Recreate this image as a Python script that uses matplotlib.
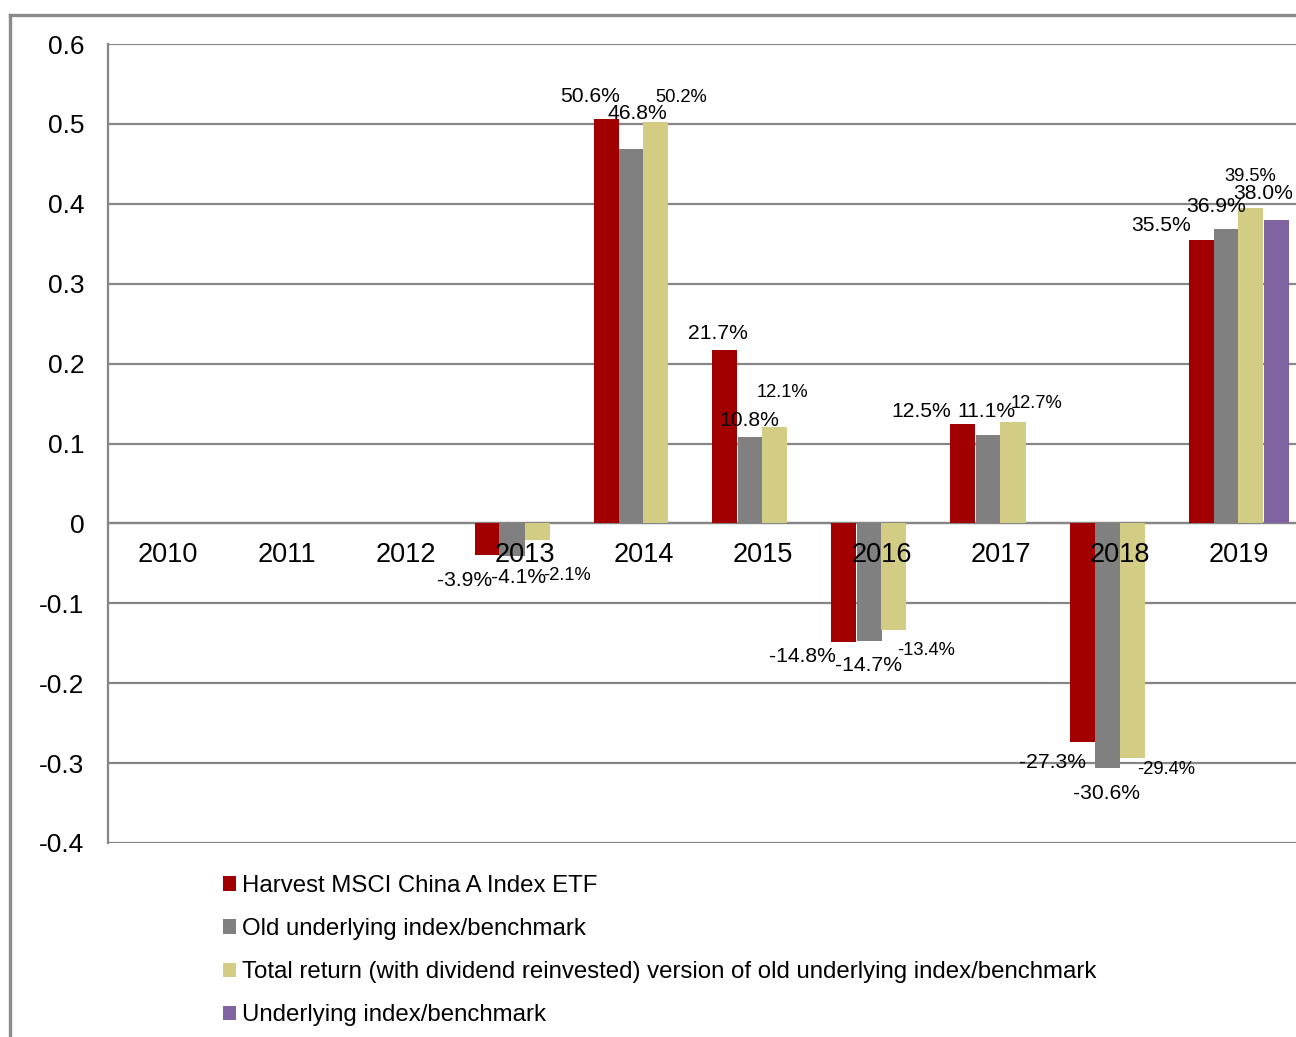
import matplotlib
matplotlib.use("Agg")
import matplotlib.pyplot as plt
from matplotlib.patches import Patch
from matplotlib.lines import Line2D
import numpy as np

plt.rcParams['font.family'] = ['Liberation Sans', 'DejaVu Sans']

years = ['2010', '2011', '2012', '2013', '2014', '2015', '2016', '2017', '2018', '2019']
series_names = [
    'Harvest MSCI China A Index ETF',
    'Old underlying index/benchmark',
    'Total return (with dividend reinvested) version of old underlying index/benchmark',
    'Underlying index/benchmark',
]
etf = [None, None, None, -0.039, 0.506, 0.217, -0.148, 0.125, -0.273, 0.355]
old_index = [None, None, None, -0.041, 0.468, 0.108, -0.147, 0.111, -0.306, 0.369]
old_tr = [None, None, None, -0.021, 0.502, 0.121, -0.134, 0.127, -0.294, 0.395]
new_index = [None, None, None, None, None, None, None, None, None, 0.380]
series = [etf, old_index, old_tr, new_index]
colors = ['#A20000', '#808080', '#D3CC85', '#8064A2']

ytick_vals = [-0.4, -0.3, -0.2, -0.1, 0, 0.1, 0.2, 0.3, 0.4, 0.5, 0.6]
ytick_labels = ['-0.4', '-0.3', '-0.2', '-0.1', '0', '0.1', '0.2', '0.3', '0.4', '0.5', '0.6']

# label offsets in pixels (dx, dy) and small-font flag, per series per year
label_offsets = {
    (0, 3): (-22, -26, False), (1, 3): (7, -21, False), (2, 3): (30, -35, True),
    (0, 4): (-16, 23, False), (1, 4): (6, 36, False), (2, 4): (25, 25, True),
    (0, 5): (-7, 17, False), (1, 5): (-1, 17, False), (2, 5): (7, 34, True),
    (0, 6): (-42, -15, False), (1, 6): (-1, -25, False), (2, 6): (32, -20, True),
    (0, 7): (-42, 12, False), (1, 7): (-2, 23, False), (2, 7): (24, 18, True),
    (0, 8): (-29, -21, False), (1, 8): (-1, -26, False), (2, 8): (34, -11, True),
    (0, 9): (-40, 14, False), (1, 9): (-10, 22, False), (2, 9): (-1, 31, True), (3, 9): (-13, 26, False),
}

W, H = 1296, 1037
fig = plt.figure(figsize=(W / 100, H / 100), dpi=100)
ax = fig.add_axes([108 / W, 1 - 843 / H, 1190 / W, 799 / H])

x = np.arange(len(years))
bw = 25 / 119
grid_c = '#868686'

ax.spines['bottom'].set_position(('data', 0))

for j, (vals, c) in enumerate(zip(series, colors)):
    xs = [xi + (j - 1.5) * bw for xi, v in zip(x, vals) if v is not None]
    vs = [v for v in vals if v is not None]
    ax.bar(xs, vs, width=bw, color=c, zorder=3, edgecolor='none')
    for xi, v in zip(x, vals):
        if v is None:
            continue
        dx, dy, small = label_offsets[(j, xi)]
        ax.annotate(f'{v * 100:.1f}%', xy=(xi + (j - 1.5) * bw, v), xytext=(dx, dy),
                    textcoords='offset pixels', ha='center', va='center',
                    fontsize=13.2 if small else 15.2, color='black', zorder=5)

# category labels drawn at the zero line, above the bars
for xi, yr in zip(x, years):
    ax.annotate(yr, xy=(xi, 0), xytext=(0, -32), textcoords='offset pixels',
                ha='center', va='center', fontsize=19.5, color='black', zorder=6)

ax.set_xlim(-0.5, 9.5)
ax.set_ylim(-0.4, 0.6)
ax.set_yticks(ytick_vals)
ax.set_yticklabels(ytick_labels, fontsize=19)
ax.set_xticks(x)
ax.set_xticklabels([])
ax.tick_params(axis='both', length=0)
ax.tick_params(axis='y', pad=17)
ax.spines['bottom'].set_color(grid_c)
ax.spines['bottom'].set_linewidth(1.6)
ax.spines['left'].set_color(grid_c)
ax.spines['left'].set_linewidth(1.6)
ax.spines['top'].set_visible(False)
ax.spines['right'].set_visible(False)
ax.yaxis.grid(True, color=grid_c, linewidth=1.6, zorder=0)
ax.set_axisbelow(True)

handles = [Patch(facecolor=c, edgecolor='none') for c in colors]
fig.legend(handles, series_names, loc='upper left',
           bbox_to_anchor=(223 / W, 1 - 875 / H), frameon=False, fontsize=17.3,
           handlelength=0.55, handleheight=0.55, handletextpad=0.25,
           labelspacing=0.88, borderaxespad=0, borderpad=0)

# outer chart border (left and top)
fig.add_artist(Line2D([10 / W, 10 / W], [0, 1 - 15 / H], color='#8a8a8a', linewidth=2.4,
                      transform=fig.transFigure))
fig.add_artist(Line2D([10 / W, 1], [1 - 15 / H, 1 - 15 / H], color='#8a8a8a', linewidth=2.4,
                      transform=fig.transFigure))

fig.savefig('out.png', dpi=100)
